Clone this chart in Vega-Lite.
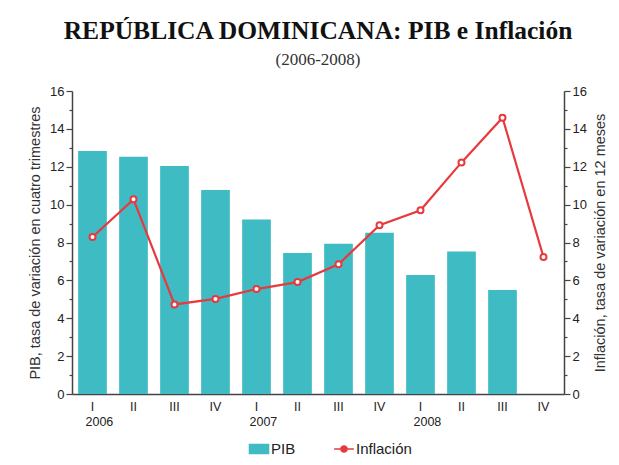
{
  "$schema": "https://vega.github.io/schema/vega-lite/v6.json",
  "width": 492,
  "height": 303,
  "padding": {"left": 27, "top": 18, "right": 12, "bottom": 5},
  "background": "white",
  "title": {
    "text": "REPÚBLICA DOMINICANA: PIB e Inflación",
    "subtitle": "(2006-2008)",
    "font": "Liberation Serif",
    "fontSize": 25.5,
    "fontWeight": "bold",
    "color": "#111111",
    "subtitleFont": "Liberation Serif",
    "subtitleFontSize": 17,
    "subtitleColor": "#333333",
    "subtitlePadding": 8,
    "offset": 17,
    "anchor": "middle"
  },
  "data": {
    "values": [
      {"t": "2006-I", "pib": 12.83, "inf": 8.29},
      {"t": "2006-II", "pib": 12.53, "inf": 10.28},
      {"t": "2006-III", "pib": 12.04, "inf": 4.73},
      {"t": "2006-IV", "pib": 10.77, "inf": 5.02},
      {"t": "2007-I", "pib": 9.22, "inf": 5.54},
      {"t": "2007-II", "pib": 7.44, "inf": 5.91},
      {"t": "2007-III", "pib": 7.94, "inf": 6.85},
      {"t": "2007-IV", "pib": 8.52, "inf": 8.91},
      {"t": "2008-I", "pib": 6.28, "inf": 9.7},
      {"t": "2008-II", "pib": 7.53, "inf": 12.23},
      {"t": "2008-III", "pib": 5.49, "inf": 14.59},
      {"t": "2008-IV", "pib": null, "inf": 7.23}
    ]
  },
  "config": {
    "view": {"stroke": null},
    "axis": {
      "labelFont": "Liberation Sans",
      "titleFont": "Liberation Sans",
      "labelColor": "#222222",
      "titleColor": "#333333",
      "domainColor": "#444444",
      "tickColor": "#444444",
      "domainWidth": 1.5,
      "grid": false
    },
    "legend": {"labelFont": "Liberation Sans"}
  },
  "layer": [
    {
      "mark": {"type": "bar"},
      "encoding": {
        "x": {
          "field": "t",
          "type": "ordinal",
          "sort": null,
          "scale": {"paddingInner": 0.3, "paddingOuter": 0.15},
          "axis": {
            "orient": "bottom",
            "title": null,
            "labelAngle": 0,
            "labelExpr": "split(datum.value, '-')[1]",
            "labelFontSize": 12.5,
            "ticks": false,
            "tickSize": 0,
            "labelPadding": 6
          }
        },
        "y": {
          "field": "pib",
          "type": "quantitative",
          "scale": {"domain": [0, 16]},
          "axis": {
            "title": "PIB, tasa de variación en cuatro trimestres",
            "titleFontSize": 14.5,
            "titleFontWeight": "normal",
            "titlePadding": 7,
            "values": [0, 1, 2, 3, 4, 5, 6, 7, 8, 9, 10, 11, 12, 13, 14, 15, 16],
            "labelExpr": "datum.value % 2 === 0 ? datum.label : ''",
            "labelFontSize": 13,
            "labelPadding": 2,
            "tickSize": {"condition": {"test": "datum.value % 2 === 0", "value": 6}, "value": 3},
            "tickWidth": 1.2
          }
        },
        "color": {
          "datum": "PIB",
          "type": "nominal",
          "scale": {"domain": ["PIB", "Inflación"], "range": ["#3fbbc4", "#e63a3f"]},
          "legend": {
            "title": null,
            "orient": "none",
            "legendX": 178,
            "legendY": 349,
            "direction": "horizontal",
            "labelFontSize": 15,
            "labelColor": "#222222",
            "symbolSize": 250,
            "columnPadding": 34,
            "labelOffset": 3,
            "encode": {
              "symbols": {
                "update": {
                  "shape": [
                    {"test": "datum.value === 'PIB'", "value": "M-1.2,-0.55H1.2V0.55H-1.2Z"},
                    {"value": "M-1.25,0L-0.38,0M0.38,0L1.25,0M0.38,0A0.38,0.38 0 1,1 -0.38,0A0.38,0.38 0 1,1 0.38,0"}
                  ],
                  "fill": [
                    {"test": "datum.value === 'PIB'", "value": "#3fbbc4"},
                    {"value": "white"}
                  ],
                  "stroke": [
                    {"test": "datum.value === 'PIB'", "value": "#3fbbc4"},
                    {"value": "#e63a3f"}
                  ],
                  "strokeWidth": {"value": 1.6}
                }
              }
            }
          }
        }
      }
    },
    {
      "mark": {
        "type": "line",
        "strokeWidth": 2.2,
        "point": {"filled": false, "fill": "white", "size": 36, "strokeWidth": 2}
      },
      "encoding": {
        "x": {
          "field": "t",
          "type": "ordinal",
          "sort": null,
          "axis": {
            "orient": "bottom",
            "title": null,
            "labelAngle": 0,
            "labelExpr": "split(datum.value, '-')[1] === 'I' ? split(datum.value, '-')[0] : ''",
            "labelFontSize": 12.5,
            "domain": false,
            "ticks": false,
            "tickSize": 0,
            "labelPadding": 21,
            "labelAlign": "left",
            "labelOffset": -7
          }
        },
        "y": {
          "field": "inf",
          "type": "quantitative",
          "scale": {"domain": [0, 16]},
          "axis": {
            "orient": "right",
            "title": "Inflación, tasa de variación en 12 meses",
            "titleAngle": 270,
            "titleBaseline": "top",
            "titleFontSize": 14.5,
            "titleFontWeight": "normal",
            "titlePadding": 7,
            "values": [0, 1, 2, 3, 4, 5, 6, 7, 8, 9, 10, 11, 12, 13, 14, 15, 16],
            "labelExpr": "datum.value % 2 === 0 ? datum.label : ''",
            "labelFontSize": 13,
            "labelPadding": 2,
            "tickSize": {"condition": {"test": "datum.value % 2 === 0", "value": 6}, "value": 3},
            "tickWidth": 1.2
          }
        },
        "color": {"datum": "Inflación", "type": "nominal"}
      }
    }
  ],
  "resolve": {"scale": {"y": "independent"}, "axis": {"x": "independent"}}
}
